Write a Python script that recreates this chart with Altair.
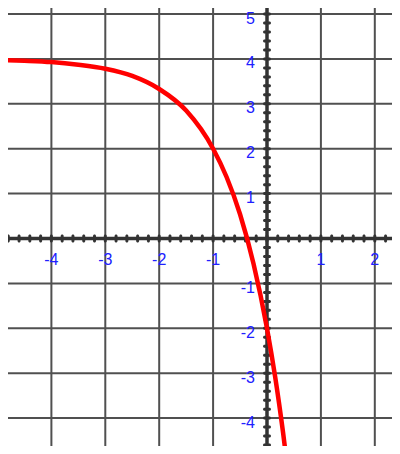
import altair as alt
import pandas as pd

# Curve points
curve_x = [-5.0, -4.5, -4.0, -3.5, -3.0, -2.5, -2.0, -1.5, -1.0, -0.75, -0.5, -0.25, 0.0, 0.15, 0.3, 0.4]
curve_y = [3.98, 3.96, 3.93, 3.87, 3.78, 3.62, 3.33, 2.85, 2.0, 1.37, 0.54, -0.56, -2.0, -3.07, -4.34, -5.3]

# Grid / tick labels
x_grid = [-5, -4, -3, -2, -1, 1, 2, 3]
y_grid = [-5, -4, -3, -2, -1, 1, 2, 3, 4, 5]
x_labels = [-5, -4, -3, -2, -1, 1, 2]
y_labels = [5, 4, 3, 2, 1, -1, -2, -3, -4]
x_minor = [round(i * 0.2, 1) for i in range(-25, 13)]
y_minor = [round(i * 0.2, 1) for i in range(-24, 26)]

xs = alt.Scale(domain=[-4.805, 2.319], nice=False, zero=False)
ys = alt.Scale(domain=[-4.621, 5.134], nice=False, zero=False)

curve_df = pd.DataFrame({"x": curve_x, "y": curve_y})
gx_df = pd.DataFrame({"x": x_grid})
gy_df = pd.DataFrame({"y": y_grid})
xmin_df = pd.DataFrame({"x": x_minor, "y": [0] * len(x_minor)})
ymin_df = pd.DataFrame({"y": y_minor, "x": [0] * len(y_minor)})
xlab_df = pd.DataFrame({"x": x_labels, "y": [0] * len(x_labels), "t": [str(v) for v in x_labels]})
ylab_df = pd.DataFrame({"y": y_labels, "x": [0] * len(y_labels), "t": [str(v) for v in y_labels]})

grid_color = "#505050"
axis_color = "#333333"
label_color = "#2020ff"

grid_v = alt.Chart(gx_df).mark_rule(color=grid_color, strokeWidth=2, clip=True).encode(
    x=alt.X("x:Q", scale=xs, axis=None))
grid_h = alt.Chart(gy_df).mark_rule(color=grid_color, strokeWidth=2, clip=True).encode(
    y=alt.Y("y:Q", scale=ys, axis=None))

axis_x = alt.Chart(pd.DataFrame({"y": [0]})).mark_rule(color=axis_color, strokeWidth=3.5).encode(
    y=alt.Y("y:Q", scale=ys, axis=None))
axis_y = alt.Chart(pd.DataFrame({"x": [0]})).mark_rule(color=axis_color, strokeWidth=3.5).encode(
    x=alt.X("x:Q", scale=xs, axis=None))

ticks_x = alt.Chart(xmin_df).mark_tick(orient="vertical", size=8, thickness=3,
                                       color=axis_color, cornerRadius=1.5, opacity=1).encode(
    x=alt.X("x:Q", scale=xs, axis=None), y=alt.Y("y:Q", scale=ys, axis=None))
ticks_y = alt.Chart(ymin_df).mark_tick(orient="horizontal", size=8, thickness=3,
                                       color=axis_color, cornerRadius=1.5, opacity=1).encode(
    x=alt.X("x:Q", scale=xs, axis=None), y=alt.Y("y:Q", scale=ys, axis=None))

labels_x = alt.Chart(xlab_df).mark_text(align="center", baseline="alphabetic", dy=26.5,
                                        font="Liberation Sans", fontSize=16, color=label_color).encode(
    x=alt.X("x:Q", scale=xs, axis=None), y=alt.Y("y:Q", scale=ys, axis=None), text="t:N")
labels_y = alt.Chart(ylab_df).mark_text(align="right", baseline="alphabetic", dx=-12, dy=9.5,
                                        font="Liberation Sans", fontSize=16, color=label_color).encode(
    x=alt.X("x:Q", scale=xs, axis=None), y=alt.Y("y:Q", scale=ys, axis=None), text="t:N")

curve = alt.Chart(curve_df).mark_line(color="#ff0000", strokeWidth=4.5, interpolate="monotone",
                                      clip=True).encode(
    x=alt.X("x:Q", scale=xs, axis=None), y=alt.Y("y:Q", scale=ys, axis=None))

chart = alt.layer(grid_v, grid_h, axis_x, axis_y, ticks_x, ticks_y, labels_x, labels_y, curve).properties(
    width=384, height=438, padding=0,
    autosize=alt.AutoSizeParams(type="none"),
    background="white",
).configure_view(stroke=None)

chart.save("out.html", embed_options={"renderer": "svg", "actions": False})
